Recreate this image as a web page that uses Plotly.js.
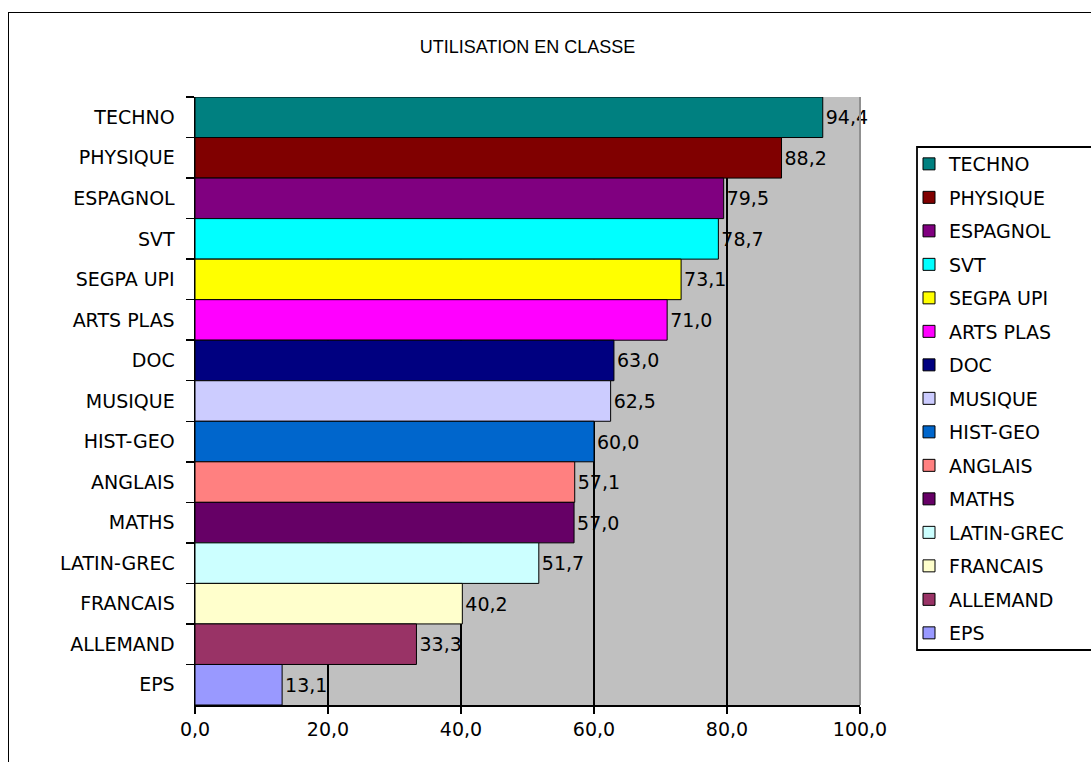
<!DOCTYPE html>
<html>
<head>
<meta charset="utf-8">
<script src="https://cdn.plot.ly/plotly-3.0.1.min.js"></script>
<style>
  html, body { margin: 0; padding: 0; background: #fff; }
  #wrap { position: relative; width: 1091px; height: 762px; overflow: hidden; }
  #chart { width: 1091px; height: 762px; }
  #frame { position: absolute; left: 8px; top: 12px; width: 1200px; height: 900px;
           border: 1.5px solid #000; pointer-events: none; box-sizing: border-box; }
</style>
</head>
<body>
<div id="wrap">
  <div id="chart"></div>
  <div id="frame"></div>
</div>
<script>
const categories = ["TECHNO", "PHYSIQUE", "ESPAGNOL", "SVT", "SEGPA UPI", "ARTS PLAS", "DOC",
  "MUSIQUE", "HIST-GEO", "ANGLAIS", "MATHS", "LATIN-GREC", "FRANCAIS", "ALLEMAND", "EPS"];
const values = [94.4, 88.2, 79.5, 78.7, 73.1, 71.0, 63.0, 62.5, 60.0, 57.1, 57.0, 51.7, 40.2, 33.3, 13.1];
const colors = ["#008080", "#800000", "#800080", "#00FFFF", "#FFFF00", "#FF00FF", "#000080",
  "#CCCCFF", "#0066CC", "#FF8080", "#660066", "#CCFFFF", "#FFFFCC", "#993366", "#9999FF"];
const xTickVals = [0, 20, 40, 60, 80, 100];

const FONT = "'DejaVu Sans', Verdana, sans-serif";
const TITLE_FONT = "Arial, 'Liberation Sans', sans-serif";
const FS = 19;

// plot area in pixels: left 195, right 860, top 97, bottom 705
const PX = v => (v - 195) / 665;
const PY = v => (705 - v) / 608;

const traces = categories.map((c, i) => ({
  type: "bar",
  orientation: "h",
  name: c,
  legendgroup: c,
  x: [values[i]],
  y: [c],
  marker: { color: colors[i], line: { color: "#000", width: 1 } },
  texttemplate: "%{x:.1f}",
  textposition: "outside",
  textfont: { family: FONT, size: FS, color: "#000" },
  cliponaxis: false,
  hoverinfo: "x+name"
}));

const layout = {
  width: 1091, height: 762,
  margin: { l: 195, r: 231, t: 97, b: 57 },
  paper_bgcolor: "#fff",
  plot_bgcolor: "#C0C0C0",
  separators: ",.",
  barmode: "overlay",
  bargap: 0,
  font: { family: FONT, size: FS, color: "#000" },
  title: {
    text: "UTILISATION EN CLASSE",
    font: { family: TITLE_FONT, size: 18, color: "#000" },
    xref: "paper", x: 0.5, xanchor: "center",
    yref: "container", y: 1 - 47 / 762, yanchor: "middle"
  },
  xaxis: {
    range: [0, 100],
    tickvals: xTickVals,
    tickformat: ".1f",
    showgrid: true, gridcolor: "#000", gridwidth: 1.8,
    zeroline: false,
    showline: true, linecolor: "#000", linewidth: 1.5,
    ticks: "outside", ticklen: 7, tickcolor: "#000", tickwidth: 1.5,
    ticklabelstandoff: 0,
    tickfont: { family: FONT, size: FS, color: "#000" },
    fixedrange: true
  },
  yaxis: {
    type: "category",
    categoryorder: "array",
    categoryarray: categories,
    autorange: "reversed",
    showgrid: false, zeroline: false,
    showline: true, linecolor: "#000", linewidth: 1.5,
    ticks: "outside", ticklen: 8, tickcolor: "#000", tickwidth: 1.5,
    tickson: "boundaries",
    ticklabelstandoff: 15,
    tickfont: { family: FONT, size: FS, color: "#000" },
    fixedrange: true
  },
  showlegend: true,
  legend: {
    x: PX(909), xanchor: "left",
    y: PY(145), yanchor: "top",
    traceorder: "grouped",
    tracegroupgap: 5.8,
    bgcolor: "rgba(0,0,0,0)",
    borderwidth: 0,
    font: { family: FONT, size: FS, color: "#000" },
    itemwidth: 30
  },
  shapes: [
    {
      type: "line", xref: "paper", yref: "paper", x0: 1, x1: 1, y0: 0, y1: 1,
      line: { color: "#909090", width: 2 }
    },
    {
      type: "rect", xref: "paper", yref: "paper", layer: "below",
      x0: PX(917), x1: PX(1110), y0: PY(650), y1: PY(147),
      fillcolor: "#fff", line: { color: "#000", width: 1.8 }
    }
  ]
};

Plotly.newPlot("chart", traces, layout, { displayModeBar: false, staticPlot: true });
</script>
</body>
</html>
